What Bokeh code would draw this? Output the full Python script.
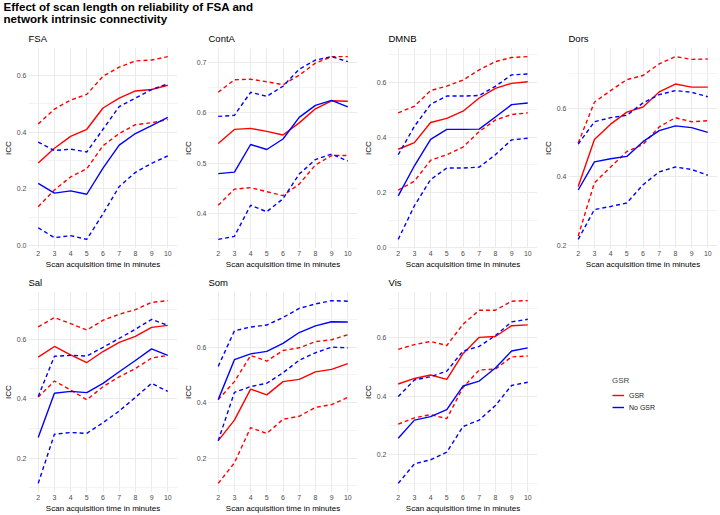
from bokeh.plotting import figure
from bokeh.models import Range1d, FixedTicker, PrintfTickFormatter, Legend, LegendItem, ColumnDataSource
from bokeh.layouts import column, row
from bokeh.embed import file_html
from bokeh.resources import INLINE
from bokeh.core.properties import value

minutes = [2, 3, 4, 5, 6, 7, 8, 9, 10]
networks = ["FSA", "ContA", "DMNB", "Dors", "Sal", "Som", "Vis"]
legend_labels = ["GSR", "No GSR"]

fsa_gsr = [0.291, 0.343, 0.385, 0.410, 0.485, 0.520, 0.545, 0.550, 0.565]
fsa_gsr_lo = [0.137, 0.196, 0.242, 0.271, 0.352, 0.395, 0.426, 0.433, 0.444]
fsa_gsr_hi = [0.429, 0.481, 0.513, 0.533, 0.597, 0.629, 0.651, 0.654, 0.666]
fsa_no = [0.219, 0.185, 0.193, 0.181, 0.273, 0.354, 0.395, 0.423, 0.452]
fsa_no_lo = [0.063, 0.028, 0.035, 0.022, 0.112, 0.208, 0.258, 0.290, 0.316]
fsa_no_hi = [0.365, 0.335, 0.340, 0.330, 0.410, 0.490, 0.520, 0.550, 0.570]

conta_gsr = [0.539, 0.567, 0.569, 0.563, 0.556, 0.580, 0.608, 0.624, 0.623]
conta_gsr_lo = [0.416, 0.448, 0.451, 0.443, 0.435, 0.458, 0.496, 0.515, 0.515]
conta_gsr_hi = [0.641, 0.666, 0.667, 0.662, 0.656, 0.675, 0.699, 0.712, 0.712]
conta_no = [0.479, 0.482, 0.537, 0.527, 0.548, 0.591, 0.615, 0.625, 0.612]
conta_no_lo = [0.348, 0.354, 0.416, 0.403, 0.429, 0.478, 0.507, 0.518, 0.504]
conta_no_hi = [0.593, 0.595, 0.641, 0.633, 0.653, 0.687, 0.705, 0.712, 0.702]

dmnb_gsr = [0.357, 0.381, 0.454, 0.469, 0.495, 0.543, 0.578, 0.596, 0.602]
dmnb_gsr_lo = [0.209, 0.241, 0.317, 0.337, 0.365, 0.421, 0.463, 0.483, 0.489]
dmnb_gsr_hi = [0.489, 0.513, 0.570, 0.586, 0.608, 0.645, 0.675, 0.690, 0.693]
dmnb_no = [0.188, 0.297, 0.393, 0.429, 0.429, 0.430, 0.474, 0.519, 0.525]
dmnb_no_lo = [0.030, 0.152, 0.247, 0.289, 0.289, 0.292, 0.337, 0.391, 0.397]
dmnb_no_hi = [0.337, 0.440, 0.520, 0.550, 0.550, 0.552, 0.585, 0.627, 0.630]

dors_gsr = [0.371, 0.508, 0.553, 0.588, 0.603, 0.647, 0.670, 0.661, 0.661]
dors_gsr_lo = [0.227, 0.382, 0.428, 0.473, 0.494, 0.545, 0.572, 0.560, 0.563]
dors_gsr_hi = [0.498, 0.617, 0.651, 0.683, 0.695, 0.729, 0.750, 0.742, 0.743]
dors_no = [0.361, 0.443, 0.452, 0.459, 0.502, 0.534, 0.548, 0.543, 0.529]
dors_no_lo = [0.217, 0.304, 0.313, 0.323, 0.376, 0.414, 0.428, 0.421, 0.404]
dors_no_hi = [0.495, 0.560, 0.572, 0.579, 0.615, 0.639, 0.651, 0.646, 0.633]

sal_gsr = [0.539, 0.575, 0.547, 0.521, 0.558, 0.589, 0.609, 0.639, 0.646]
sal_gsr_lo = [0.405, 0.459, 0.429, 0.396, 0.440, 0.473, 0.501, 0.536, 0.545]
sal_gsr_hi = [0.641, 0.672, 0.652, 0.630, 0.663, 0.683, 0.699, 0.723, 0.729]
sal_no = [0.269, 0.418, 0.424, 0.420, 0.451, 0.490, 0.528, 0.567, 0.545]
sal_no_lo = [0.115, 0.280, 0.286, 0.283, 0.319, 0.358, 0.404, 0.451, 0.424]
sal_no_hi = [0.407, 0.542, 0.545, 0.543, 0.572, 0.602, 0.633, 0.666, 0.646]

som_gsr = [0.263, 0.337, 0.449, 0.428, 0.476, 0.484, 0.511, 0.520, 0.541]
som_gsr_lo = [0.109, 0.183, 0.310, 0.289, 0.340, 0.351, 0.383, 0.393, 0.419]
som_gsr_hi = [0.411, 0.476, 0.570, 0.550, 0.588, 0.598, 0.620, 0.627, 0.645]
som_no = [0.411, 0.555, 0.576, 0.585, 0.614, 0.653, 0.677, 0.692, 0.691]
som_no_lo = [0.263, 0.437, 0.458, 0.470, 0.508, 0.553, 0.580, 0.600, 0.598]
som_no_hi = [0.531, 0.659, 0.673, 0.680, 0.707, 0.740, 0.756, 0.768, 0.766]

vis_gsr = [0.442, 0.461, 0.473, 0.458, 0.546, 0.602, 0.605, 0.642, 0.645]
vis_gsr_lo = [0.304, 0.326, 0.337, 0.323, 0.430, 0.490, 0.493, 0.535, 0.538]
vis_gsr_hi = [0.561, 0.577, 0.588, 0.574, 0.647, 0.695, 0.695, 0.726, 0.728]
vis_no = [0.256, 0.318, 0.330, 0.354, 0.435, 0.452, 0.497, 0.555, 0.566]
vis_no_lo = [0.101, 0.168, 0.182, 0.208, 0.296, 0.318, 0.368, 0.437, 0.448]
vis_no_hi = [0.399, 0.456, 0.467, 0.486, 0.555, 0.571, 0.608, 0.655, 0.664]

fsa_ticks = [0.0, 0.2, 0.4, 0.6]
conta_ticks = [0.4, 0.5, 0.6, 0.7]
dmnb_ticks = [0.0, 0.2, 0.4, 0.6]
dors_ticks = [0.2, 0.4, 0.6]
sal_ticks = [0.2, 0.4, 0.6]
som_ticks = [0.2, 0.4, 0.6]
vis_ticks = [0.2, 0.4, 0.6]

panels = [
    (fsa_gsr, fsa_gsr_lo, fsa_gsr_hi, fsa_no, fsa_no_lo, fsa_no_hi, fsa_ticks),
    (conta_gsr, conta_gsr_lo, conta_gsr_hi, conta_no, conta_no_lo, conta_no_hi, conta_ticks),
    (dmnb_gsr, dmnb_gsr_lo, dmnb_gsr_hi, dmnb_no, dmnb_no_lo, dmnb_no_hi, dmnb_ticks),
    (dors_gsr, dors_gsr_lo, dors_gsr_hi, dors_no, dors_no_lo, dors_no_hi, dors_ticks),
    (sal_gsr, sal_gsr_lo, sal_gsr_hi, sal_no, sal_no_lo, sal_no_hi, sal_ticks),
    (som_gsr, som_gsr_lo, som_gsr_hi, som_no, som_no_lo, som_no_hi, som_ticks),
    (vis_gsr, vis_gsr_lo, vis_gsr_hi, vis_no, vis_no_lo, vis_no_hi, vis_ticks),
]

FONT = "Liberation Sans"
RED = "#FF0000"
BLUE = "#0000FF"
GRID = "#EBEBEB"
DASH = "4 3"
PW, PH = 180, 244


def make_panel(name, data):
    g, g_lo, g_hi, n, n_lo, n_hi, ticks = data
    allv = g + g_lo + g_hi + n + n_lo + n_hi
    lo, hi = min(allv), max(allv)
    pad = 0.05 * (hi - lo)
    p = figure(width=PW, height=PH, output_backend="svg", toolbar_location=None,
               x_range=Range1d(min(minutes) - 0.6, max(minutes) + 0.6),
               y_range=Range1d(lo - pad, hi + pad),
               min_border_left=25, min_border_right=3, min_border_top=18, min_border_bottom=20,
               title=name)
    p.outline_line_color = None
    p.title.text_font = FONT
    p.title.text_font_size = "9.5px"
    p.title.text_font_style = "normal"
    p.title.text_color = "black"
    p.title.align = "left"
    p.title.standoff = 7
    p.xaxis.ticker = FixedTicker(ticks=minutes, minor_ticks=[])
    step = ticks[1] - ticks[0]
    minor = [t - step / 2 for t in ticks] + [ticks[-1] + step / 2]
    p.yaxis.ticker = FixedTicker(ticks=ticks, minor_ticks=minor)
    p.yaxis.formatter = PrintfTickFormatter(format="%.1f")
    p.xaxis.axis_label = "Scan acquisition time in minutes"
    p.yaxis.axis_label = "ICC"
    for ax in (p.xaxis[0], p.yaxis[0]):
        ax.axis_line_color = None
        ax.major_tick_line_color = None
        ax.minor_tick_line_color = None
        ax.major_tick_out = 0
        ax.major_tick_in = 0
        ax.minor_tick_out = 0
        ax.minor_tick_in = 0
        ax.major_label_text_font = FONT
        ax.major_label_text_font_size = "7px"
        ax.major_label_text_color = "#4D4D4D"
        ax.major_label_standoff = 2
        ax.axis_label_text_font = FONT
        ax.axis_label_text_font_size = "8px"
        ax.axis_label_text_font_style = "normal"
        ax.axis_label_text_color = "black"
        ax.axis_label_standoff = 1
    p.xgrid.grid_line_color = GRID
    p.xgrid.grid_line_width = 1
    p.ygrid.grid_line_color = GRID
    p.ygrid.grid_line_width = 1
    p.ygrid.minor_grid_line_color = GRID
    p.ygrid.minor_grid_line_width = 0.6
    for ys in (g_hi, g_lo):
        p.line(minutes, ys, line_color=RED, line_width=1.4, line_dash=DASH)
    p.line(minutes, g, line_color=RED, line_width=1.4)
    for ys in (n_hi, n_lo):
        p.line(minutes, ys, line_color=BLUE, line_width=1.4, line_dash=DASH)
    p.line(minutes, n, line_color=BLUE, line_width=1.4)
    return p


figs = [make_panel(nm, d) for nm, d in zip(networks, panels)]

# legend cell
lg = figure(width=PW, height=PH, output_backend="svg", toolbar_location=None,
            x_range=Range1d(0, 1), y_range=Range1d(0, 1), x_axis_type=None, y_axis_type=None,
            min_border=0)
lg.outline_line_color = None
lg.grid.visible = False
nan_src = ColumnDataSource(data=dict(x=[float("nan")], y=[float("nan")]))
r1 = lg.line("x", "y", source=nan_src, line_color=RED, line_width=1.4)
r2 = lg.line("x", "y", source=nan_src, line_color=BLUE, line_width=1.4)
leg = Legend(items=[LegendItem(label=legend_labels[0], renderers=[r1]),
                    LegendItem(label=legend_labels[1], renderers=[r2])],
             location=(72, 79), title="GSR")
leg.title_text_font = FONT
leg.title_text_font_size = "8px"
leg.title_text_font_style = "normal"
leg.title_standoff = 4
leg.label_text_font = FONT
leg.label_text_font_size = "7px"
leg.label_text_color = "#1A1A1A"
leg.glyph_width = 12
leg.glyph_height = 12
leg.label_height = 12
leg.spacing = 0
leg.padding = 0
leg.margin = 0
leg.label_standoff = 5
leg.border_line_color = None
leg.background_fill_alpha = 0
lg.add_layout(leg)

# header with title
hd = figure(width=720, height=27, output_backend="svg", toolbar_location=None,
            x_range=Range1d(0, 720), y_range=Range1d(0, 27), x_axis_type=None, y_axis_type=None,
            min_border=0)
hd.outline_line_color = None
hd.grid.visible = False
title_lines = ["Effect of scan length on reliability of FSA and", " network intrinsic connectivity"]
hd.text(x=[3, 3], y=[21, 9.5], text=title_lines, text_font=value(FONT), text_font_size="11.6px",
        text_font_style="bold", text_baseline="alphabetic", text_color="black")

layout = column(hd, row(*figs[:4]), row(*figs[4:], lg))
open("out.html", "w").write(file_html(layout, INLINE))
